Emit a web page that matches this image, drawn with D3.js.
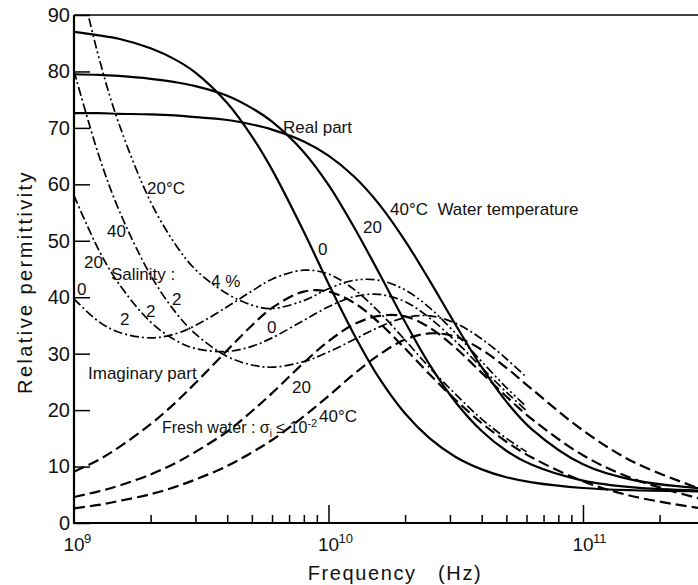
<!DOCTYPE html>
<html>
<head>
<meta charset="utf-8">
<script src="https://cdn.jsdelivr.net/npm/d3@7"></script>
<style>
  body { margin: 0; background: #fff; }
  text { font-family: "Liberation Sans", Arial, sans-serif; fill: #111; }
</style>
</head>
<body>
<svg id="chart"></svg>
<script>
// frequencies in GHz
const freqGHz = [1, 1.25, 1.5, 2, 2.5, 3, 4, 5, 6, 8, 10, 12.6, 15.8, 20, 25, 31.6, 40, 50, 63, 100, 158, 300]

// real part, fresh water
const realFresh0 = [87.0, 86.4, 85.8, 84.1, 82.1, 79.8, 74.4, 68.5, 62.6, 51.6, 42.4, 33.4, 25.7, 19.4, 15.0, 11.7, 9.5, 8.1, 7.2, 6.2, 5.8, 5.6]
const realFresh20 = [79.5, 79.4, 79.2, 78.7, 78.1, 77.4, 75.7, 73.5, 71.1, 65.7, 59.9, 52.4, 44.3, 35.6, 28.0, 21.4, 16.3, 12.8, 10.3, 7.5, 6.3, 5.7]
const realFresh40 = [72.6, 72.6, 72.5, 72.4, 72.2, 71.9, 71.4, 70.6, 69.7, 67.6, 65.1, 61.4, 56.5, 50.0, 42.9, 35.1, 27.6, 21.5, 16.6, 10.4, 7.6, 6.1]

// imaginary part, fresh water
const imagFresh0 = [9.1, 11.2, 13.4, 17.5, 21.3, 24.8, 30.6, 35.0, 38.1, 41.0, 41.0, 39.0, 35.5, 30.9, 26.3, 21.8, 17.7, 14.4, 11.6, 7.4, 4.7, 2.5]
const imagFresh20 = [4.6, 5.6, 6.6, 8.6, 10.6, 12.6, 16.2, 19.8, 23.0, 28.4, 32.2, 35.2, 36.7, 36.6, 34.6, 31.0, 26.6, 22.4, 18.4, 12.0, 7.8, 4.1]
const imagFresh40 = [2.6, 3.2, 3.9, 5.1, 6.4, 7.7, 10.1, 12.5, 14.7, 18.9, 22.5, 26.4, 29.8, 32.5, 33.6, 33.0, 30.7, 27.5, 23.7, 16.4, 10.8, 5.8]

// imaginary part, saline water
const salineFreqGHz = [1, 1.25, 1.5, 2, 2.5, 3, 4, 5, 6, 8, 10, 12.6, 15.8, 20, 25, 31.6, 40, 50, 60]
const imagSal4pct20 = [100.8, 82.6, 70.8, 56.9, 49.4, 44.9, 40.6, 38.6, 38.0, 39.4, 41.5, 43.0, 43.0, 41.3, 38.1, 33.6, 28.6, 24.0, 20.6]
const imagSal2pct40 = [80.1, 65.2, 55.5, 43.9, 37.4, 33.5, 29.5, 28.0, 27.6, 28.6, 30.3, 32.5, 34.7, 36.4, 36.7, 35.4, 32.6, 29.1, 25.8]
const imagSal2pct20 = [58.0, 48.4, 42.4, 35.6, 32.4, 30.9, 30.4, 31.3, 32.8, 35.9, 38.3, 40.1, 40.5, 39.2, 36.3, 32.2, 27.5, 23.2, 19.9]
const imagSal2pct0 = [39.7, 35.7, 33.8, 32.8, 33.5, 35.0, 38.3, 41.1, 43.2, 44.8, 44.1, 41.4, 37.4, 32.4, 27.5, 22.8, 18.4, 15.0, 12.6]

const yTicks = [0, 10, 20, 30, 40, 50, 60, 70, 80, 90]
const decades = [1e9, 1e10, 1e11]
const decadeExp = ['9', '10', '11']

const width = 698
const height = 585

const svg = d3.select('#chart')
  .attr('width', width)
  .attr('height', height)

const x = d3.scaleLog().domain([1e9, 3e11]).range([74, 704.4])
const y = d3.scaleLinear().domain([0, 90]).range([523, 15])

svg.append('clipPath').attr('id', 'plot')
  .append('rect')
  .attr('x', 74).attr('y', 15)
  .attr('width', 640).attr('height', 508)

// -------- curves --------
const line = d3.line()
  .x(d => x(d[0] * 1e9))
  .y(d => y(d[1]))
  .curve(d3.curveCatmullRom.alpha(0.5))

const zip = (f, v) => f.map((d, i) => [d, v[i]])

const DASH = '11,5'
const DASHDOT = '9,3,2,3'
const DASHDOTDOT = '9,3,2,3,2,3'

const curves = [
  { pts: zip(freqGHz, realFresh0), dash: null, w: 2.2 },
  { pts: zip(freqGHz, realFresh20), dash: null, w: 2.2 },
  { pts: zip(freqGHz, realFresh40), dash: null, w: 2.2 },
  { pts: zip(freqGHz, imagFresh0), dash: DASH, w: 2.2 },
  { pts: zip(freqGHz, imagFresh20), dash: DASH, w: 2.2 },
  { pts: zip(freqGHz, imagFresh40), dash: DASH, w: 2.2 },
  { pts: zip(salineFreqGHz, imagSal4pct20), dash: DASHDOTDOT, w: 1.7 },
  { pts: zip(salineFreqGHz, imagSal2pct40), dash: DASHDOT, w: 1.7 },
  { pts: zip(salineFreqGHz, imagSal2pct20), dash: DASHDOT, w: 1.7 },
  { pts: zip(salineFreqGHz, imagSal2pct0), dash: DASHDOT, w: 1.7 },
]

svg.append('g')
  .attr('clip-path', 'url(#plot)')
  .selectAll('path')
  .data(curves)
  .join('path')
    .attr('d', d => line(d.pts))
    .attr('fill', 'none')
    .attr('stroke', '#000')
    .attr('stroke-width', d => d.w)
    .attr('stroke-dasharray', d => d.dash)

// -------- axes --------
const yAxis = d3.axisLeft(y)
  .tickValues(yTicks)
  .tickSizeInner(-16)
  .tickSizeOuter(0)
  .tickPadding(4)

const gy = svg.append('g')
  .attr('transform', 'translate(74,0)')
  .call(yAxis)
gy.select('.domain').remove()
gy.selectAll('line').attr('stroke', '#000').attr('stroke-width', 1.5)
gy.selectAll('text')
  .attr('font-size', 20)
  .style('font-family', '"Liberation Sans", Arial, sans-serif')
  .attr('fill', '#111')

const xTickVals = []
for (const d of [1e9, 1e10, 1e11]) {
  for (let k = 1; k < 10; k++) {
    const v = d * k
    if (v > 1e9 && v <= 3e11) xTickVals.push(v)
  }
}

const xAxis = d3.axisBottom(x)
  .tickValues(xTickVals)
  .tickSizeInner(-8)
  .tickSizeOuter(0)
  .tickFormat('')

const gx = svg.append('g')
  .attr('transform', 'translate(0,523)')
  .call(xAxis)
gx.select('.domain').remove()
gx.selectAll('line').attr('stroke', '#000').attr('stroke-width', 1.5)
gx.selectAll('.tick')
  .filter(d => decades.includes(d))
  .select('line')
  .attr('y2', -18)

// frame
svg.append('line')
  .attr('x1', 74).attr('x2', 74).attr('y1', 15).attr('y2', 524)
  .attr('stroke', '#000').attr('stroke-width', 2.2)
svg.append('line')
  .attr('x1', 73).attr('x2', width).attr('y1', 523).attr('y2', 523)
  .attr('stroke', '#000').attr('stroke-width', 2.2)
svg.append('line')
  .attr('x1', 74).attr('x2', width).attr('y1', 15).attr('y2', 15)
  .attr('stroke', '#000').attr('stroke-width', 1.6)

// decade labels 10^n
decades.forEach((d, i) => {
  svg.append('text')
    .attr('x', x(d)).attr('y', 551)
    .attr('text-anchor', 'middle')
    .attr('font-size', 19)
    .text('10')
  svg.append('text')
    .attr('x', x(d) + 10).attr('y', 543)
    .attr('font-size', 13)
    .text(decadeExp[i])
})

// axis titles
svg.append('text')
  .attr('x', 395).attr('y', 580)
  .attr('text-anchor', 'middle')
  .attr('font-size', 20)
  .attr('letter-spacing', 1.6)
  .attr('xml:space', 'preserve')
  .text('Frequency   (Hz)')

svg.append('text')
  .attr('transform', 'translate(32,282) rotate(-90)')
  .attr('text-anchor', 'middle')
  .attr('font-size', 20)
  .attr('letter-spacing', 2.4)
  .text('Relative permittivity')

// -------- annotations --------
const labels = [
  ['Real part', 283, 133],
  ['40\u00b0C  Water temperature', 390, 215],
  ['0', 318, 255],
  ['20', 363, 233],
  ['20\u00b0C', 147, 194],
  ['40', 107, 237],
  ['20', 84, 268],
  ['0', 77, 295],
  ['Salinity :', 111, 280],
  ['4 %', 211, 287],
  ['2', 120, 325],
  ['2', 146, 317],
  ['2', 172, 305],
  ['0', 267, 333],
  ['Imaginary part', 88, 379],
  ['20', 292, 393],
  ['40\u00b0C', 319, 422],
]

svg.append('g')
  .selectAll('text')
  .data(labels)
  .join('text')
    .attr('x', d => d[1])
    .attr('y', d => d[2])
    .attr('font-size', 17)
    .attr('xml:space', 'preserve')
    .text(d => d[0])

const fresh = svg.append('text')
  .attr('x', 162).attr('y', 433)
  .attr('font-size', 16)
  .attr('xml:space', 'preserve')
fresh.append('tspan').text('Fresh water : \u03c3')
fresh.append('tspan').attr('font-size', 10).attr('dy', 4).text('i')
fresh.append('tspan').attr('dy', -4).text(' \u2264 10')
fresh.append('tspan').attr('font-size', 11).attr('dy', -6).text('-2')
</script>
</body>
</html>
